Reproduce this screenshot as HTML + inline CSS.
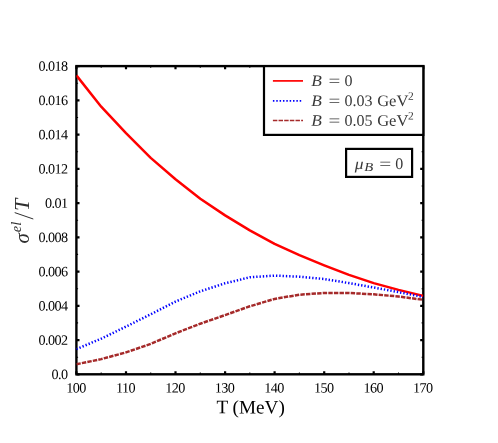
<!DOCTYPE html>
<html><head><meta charset="utf-8"><title>chart</title>
<style>
html,body{margin:0;padding:0;background:#fff;}
svg{display:block;font-family:"Liberation Serif",serif;will-change:transform;}
.tk text{font-size:14.2px;letter-spacing:-0.6px;fill:#000;}
.lg text{font-size:16px;fill:#383838;}
.it{font-style:italic;}
</style></head><body>
<svg width="498" height="443" viewBox="0 0 498 443">
<rect width="498" height="443" fill="#fff"/>
<!-- frame -->
<rect x="76.4" y="66.1" width="346.9" height="308.2" fill="none" stroke="#000" stroke-width="2.4"/>
<path d="M76.4,374.3 v-3.1 M76.4,66.1 v3.1" stroke="#000" stroke-width="2.2"/>
<path d="M101.2,374.3 v-1.7 M101.2,66.1 v1.7" stroke="#000" stroke-width="1.1"/>
<path d="M126.0,374.3 v-3.1 M126.0,66.1 v3.1" stroke="#000" stroke-width="2.2"/>
<path d="M150.7,374.3 v-1.7 M150.7,66.1 v1.7" stroke="#000" stroke-width="1.1"/>
<path d="M175.5,374.3 v-3.1 M175.5,66.1 v3.1" stroke="#000" stroke-width="2.2"/>
<path d="M200.3,374.3 v-1.7 M200.3,66.1 v1.7" stroke="#000" stroke-width="1.1"/>
<path d="M225.1,374.3 v-3.1 M225.1,66.1 v3.1" stroke="#000" stroke-width="2.2"/>
<path d="M249.8,374.3 v-1.7 M249.8,66.1 v1.7" stroke="#000" stroke-width="1.1"/>
<path d="M274.6,374.3 v-3.1 M274.6,66.1 v3.1" stroke="#000" stroke-width="2.2"/>
<path d="M299.4,374.3 v-1.7 M299.4,66.1 v1.7" stroke="#000" stroke-width="1.1"/>
<path d="M324.2,374.3 v-3.1 M324.2,66.1 v3.1" stroke="#000" stroke-width="2.2"/>
<path d="M349.0,374.3 v-1.7 M349.0,66.1 v1.7" stroke="#000" stroke-width="1.1"/>
<path d="M373.7,374.3 v-3.1 M373.7,66.1 v3.1" stroke="#000" stroke-width="2.2"/>
<path d="M398.5,374.3 v-1.7 M398.5,66.1 v1.7" stroke="#000" stroke-width="1.1"/>
<path d="M423.3,374.3 v-3.1 M423.3,66.1 v3.1" stroke="#000" stroke-width="2.2"/>
<path d="M76.4,374.3 h3.1 M423.3,374.3 h-3.1" stroke="#000" stroke-width="2.2"/>
<path d="M76.4,357.2 h1.7 M423.3,357.2 h-1.7" stroke="#000" stroke-width="1.1"/>
<path d="M76.4,340.1 h3.1 M423.3,340.1 h-3.1" stroke="#000" stroke-width="2.2"/>
<path d="M76.4,322.9 h1.7 M423.3,322.9 h-1.7" stroke="#000" stroke-width="1.1"/>
<path d="M76.4,305.8 h3.1 M423.3,305.8 h-3.1" stroke="#000" stroke-width="2.2"/>
<path d="M76.4,288.7 h1.7 M423.3,288.7 h-1.7" stroke="#000" stroke-width="1.1"/>
<path d="M76.4,271.6 h3.1 M423.3,271.6 h-3.1" stroke="#000" stroke-width="2.2"/>
<path d="M76.4,254.4 h1.7 M423.3,254.4 h-1.7" stroke="#000" stroke-width="1.1"/>
<path d="M76.4,237.3 h3.1 M423.3,237.3 h-3.1" stroke="#000" stroke-width="2.2"/>
<path d="M76.4,220.2 h1.7 M423.3,220.2 h-1.7" stroke="#000" stroke-width="1.1"/>
<path d="M76.4,203.1 h3.1 M423.3,203.1 h-3.1" stroke="#000" stroke-width="2.2"/>
<path d="M76.4,186.0 h1.7 M423.3,186.0 h-1.7" stroke="#000" stroke-width="1.1"/>
<path d="M76.4,168.8 h3.1 M423.3,168.8 h-3.1" stroke="#000" stroke-width="2.2"/>
<path d="M76.4,151.7 h1.7 M423.3,151.7 h-1.7" stroke="#000" stroke-width="1.1"/>
<path d="M76.4,134.6 h3.1 M423.3,134.6 h-3.1" stroke="#000" stroke-width="2.2"/>
<path d="M76.4,117.5 h1.7 M423.3,117.5 h-1.7" stroke="#000" stroke-width="1.1"/>
<path d="M76.4,100.3 h3.1 M423.3,100.3 h-3.1" stroke="#000" stroke-width="2.2"/>
<path d="M76.4,83.2 h1.7 M423.3,83.2 h-1.7" stroke="#000" stroke-width="1.1"/>
<path d="M76.4,66.1 h3.1 M423.3,66.1 h-3.1" stroke="#000" stroke-width="2.2"/>
<!-- curves -->
<clipPath id="cp"><rect x="76.4" y="66.1" width="346.9" height="308.2"/></clipPath>
<g fill="none" stroke-linejoin="round" clip-path="url(#cp)">
<path d="M76.4,75.4 L101.2,106.7 L126.0,133.1 L150.7,157.9 L175.5,179.2 L200.3,198.7 L225.1,215.4 L249.8,230.4 L274.6,243.9 L299.4,255.1 L324.2,265.3 L349.0,274.9 L373.7,283.1 L398.5,289.9 L423.3,295.9" stroke="#ff0000" stroke-width="2.5"/>
<path d="M76.4,349.1 L101.2,338.7 L126.0,326.6 L150.7,314.3 L175.5,301.6 L200.3,291.3 L225.1,283.3 L249.8,277.3 L274.6,275.6 L299.4,276.7 L324.2,279.0 L349.0,283.1 L373.7,287.5 L398.5,292.1 L423.3,297.0" stroke="#0000ff" stroke-width="2.5" stroke-dasharray="1.35 1.95"/>
<path d="M76.4,364.3 L101.2,359.1 L126.0,352.4 L150.7,343.9 L175.5,333.3 L200.3,323.7 L225.1,315.1 L249.8,306.3 L274.6,298.9 L299.4,294.7 L324.2,293.0 L349.0,293.0 L373.7,294.3 L398.5,296.5 L423.3,299.8" stroke="#a52a2a" stroke-width="2.5" stroke-dasharray="4.4 1.2"/>
</g>
<g class="tk">
<text x="75.9" y="392.4" text-anchor="middle" transform="rotate(0.03 75.9 392.4)">100</text>
<text x="125.5" y="392.4" text-anchor="middle" transform="rotate(0.03 125.5 392.4)">110</text>
<text x="175.0" y="392.4" text-anchor="middle" transform="rotate(0.03 175.0 392.4)">120</text>
<text x="224.6" y="392.4" text-anchor="middle" transform="rotate(0.03 224.6 392.4)">130</text>
<text x="274.1" y="392.4" text-anchor="middle" transform="rotate(0.03 274.1 392.4)">140</text>
<text x="323.7" y="392.4" text-anchor="middle" transform="rotate(0.03 323.7 392.4)">150</text>
<text x="373.2" y="392.4" text-anchor="middle" transform="rotate(0.03 373.2 392.4)">160</text>
<text x="422.8" y="392.4" text-anchor="middle" transform="rotate(0.03 422.8 392.4)">170</text>
<text x="67.5" y="379.0" text-anchor="end" transform="rotate(0.03 67.5 379.0)">0.0</text>
<text x="67.5" y="344.8" text-anchor="end" transform="rotate(0.03 67.5 344.8)">0.002</text>
<text x="67.5" y="310.5" text-anchor="end" transform="rotate(0.03 67.5 310.5)">0.004</text>
<text x="67.5" y="276.3" text-anchor="end" transform="rotate(0.03 67.5 276.3)">0.006</text>
<text x="67.5" y="242.0" text-anchor="end" transform="rotate(0.03 67.5 242.0)">0.008</text>
<text x="67.5" y="207.8" text-anchor="end" transform="rotate(0.03 67.5 207.8)">0.01</text>
<text x="67.5" y="173.5" text-anchor="end" transform="rotate(0.03 67.5 173.5)">0.012</text>
<text x="67.5" y="139.3" text-anchor="end" transform="rotate(0.03 67.5 139.3)">0.014</text>
<text x="67.5" y="105.0" text-anchor="end" transform="rotate(0.03 67.5 105.0)">0.016</text>
<text x="67.5" y="70.8" text-anchor="end" transform="rotate(0.03 67.5 70.8)">0.018</text>
</g>
<text x="250.6" y="413.4" text-anchor="middle" style="font-size:19.2px" fill="#000" transform="rotate(0.03 250.6 413.4)">T (MeV)</text>
<!-- y label -->
<g transform="translate(29.3,243.6) rotate(-90)" fill="#303030">
<text x="0" y="0" style="font-size:21px" class="it">σ</text>
<text x="11.3" y="-8" style="font-size:14.5px" class="it">el</text>
<path d="M24.6,4.0 L31.0,-14.6" stroke="#303030" stroke-width="1.0" fill="none"/>
<text x="32.6" y="0" style="font-size:22px" class="it">T</text>
</g>
<!-- legend -->
<rect x="264" y="66.1" width="159.3" height="68.8" fill="#fff" stroke="#000" stroke-width="2.2"/>
<path d="M272.9,80.9 H303" stroke="#ff0000" stroke-width="1.7"/>
<path d="M272.9,100.8 H301.2" stroke="#0000ff" stroke-width="1.7" stroke-dasharray="1.5 1.85"/>
<path d="M272.9,120.5 H303" stroke="#a52a2a" stroke-width="1.7" stroke-dasharray="4.45 1.2"/>
<g class="lg">
<text x="311.3" y="86.0" class="it" textLength="10.6" lengthAdjust="spacingAndGlyphs" transform="rotate(0.03 311.3 86.0)">B</text><text x="328.6" y="86.0" textLength="11.8" lengthAdjust="spacingAndGlyphs" transform="rotate(0.03 328.6 86.0)">=</text><text x="344.6" y="86.0" transform="rotate(0.03 344.6 86.0)">0</text>
<text x="311.3" y="105.9" class="it" textLength="10.6" lengthAdjust="spacingAndGlyphs" transform="rotate(0.03 311.3 105.9)">B</text><text x="328.6" y="105.9" textLength="11.8" lengthAdjust="spacingAndGlyphs" transform="rotate(0.03 328.6 105.9)">=</text><text x="344.6" y="105.9" transform="rotate(0.03 344.6 105.9)">0.03</text><text x="377.2" y="105.9" textLength="31.2" lengthAdjust="spacingAndGlyphs" transform="rotate(0.03 377.2 105.9)">GeV</text><text x="408.1" y="99.7" style="font-size:11.5px" transform="rotate(0.03 408.1 99.7)">2</text>
<text x="311.3" y="125.8" class="it" textLength="10.6" lengthAdjust="spacingAndGlyphs" transform="rotate(0.03 311.3 125.8)">B</text><text x="328.6" y="125.8" textLength="11.8" lengthAdjust="spacingAndGlyphs" transform="rotate(0.03 328.6 125.8)">=</text><text x="344.6" y="125.8" transform="rotate(0.03 344.6 125.8)">0.05</text><text x="377.2" y="125.8" textLength="31.2" lengthAdjust="spacingAndGlyphs" transform="rotate(0.03 377.2 125.8)">GeV</text><text x="408.1" y="119.6" style="font-size:11.5px" transform="rotate(0.03 408.1 119.6)">2</text>
</g>
<!-- muB box -->
<rect x="346.1" y="148.9" width="66" height="28.0" fill="#fff" stroke="#000" stroke-width="2.2"/>
<g class="lg">
<text x="354.8" y="168.9" class="it" style="font-size:16px" textLength="8.8" lengthAdjust="spacingAndGlyphs" transform="rotate(0.03 354.8 168.9)">μ</text>
<text x="364.3" y="170.9" class="it" style="font-size:12.3px" textLength="9" lengthAdjust="spacingAndGlyphs" transform="rotate(0.03 364.3 170.9)">B</text>
<text x="379.2" y="168.9" textLength="12" lengthAdjust="spacingAndGlyphs" transform="rotate(0.03 379.2 168.9)">=</text>
<text x="395.3" y="168.9" transform="rotate(0.03 395.3 168.9)">0</text>
</g>
</svg>
</body></html>
